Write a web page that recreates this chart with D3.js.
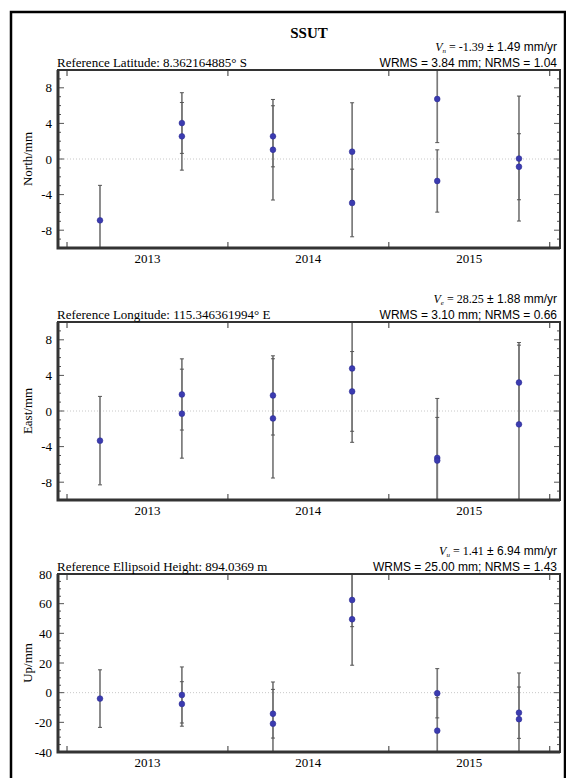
<!DOCTYPE html>
<html>
<head>
<meta charset="utf-8">
<script src="https://cdn.jsdelivr.net/npm/d3@7"></script>
<style>
  body { margin: 0; background: #fff; }
  svg { display: block; }
</style>
</head>
<body>
<div id="chart"></div>
<script>
// decimal-year epochs of each solution (two solutions per campaign, except the first)
var epochs = [2013.205, 2013.714, 2013.714, 2014.280, 2014.280, 2014.772, 2014.772, 2015.301, 2015.301, 2015.809, 2015.809];

var north    = [-6.89, 4.04, 2.55, 2.55, 1.04, 0.82, -4.94, 6.74, -2.47, 0.05, -0.87];
var northErr = [3.93, 3.41, 3.80, 3.43, 5.65, 5.50, 3.80, 4.90, 3.50, 7.02, 3.71];

var east    = [-3.33, 1.86, -0.30, 1.75, -0.83, 4.78, 2.20, -5.27, -5.57, 3.20, -1.50];
var eastErr = [4.97, 4.00, 5.00, 4.45, 6.70, 8.30, 4.48, 6.68, 4.85, 4.49, 8.90];

var up    = [-4.0, -1.55, -7.6, -14.2, -20.9, 62.5, 49.5, -0.4, -25.6, -13.5, -17.9];
var upErr = [19.4, 18.9, 15.0, 16.4, 28.1, 18.0, 31.0, 16.6, 22.2, 17.3, 31.2];

var yearTicks = [2013, 2014, 2015, 2016];
var yearLabels = [2013, 2014, 2015];

var neTicks = [-8, -4, 0, 4, 8];
var upTicks = [-40, -20, 0, 20, 40, 60, 80];

var title = "SSUT";

var width = 566, height = 778;
var margin = {left: 58, right: 6};
var plotH = 178;

var svg = d3.select("#chart").append("svg")
    .attr("width", width)
    .attr("height", height);

// outer frame
svg.append("rect")
    .attr("x", 11).attr("y", 12)
    .attr("width", 554).attr("height", 800)
    .attr("fill", "none")
    .attr("stroke", "#000")
    .attr("stroke-width", 2.5);

var x = d3.scaleLinear()
    .domain([2012.944, 2016.064])
    .range([margin.left, width - margin.right]);

svg.append("text")
    .attr("x", (x.range()[0] + x.range()[1]) / 2)
    .attr("y", 38)
    .attr("text-anchor", "middle")
    .style("font-family", "Liberation Serif")
    .style("font-weight", "bold")
    .style("font-size", "15px")
    .text(title);

function drawPanel(top, vals, errs, domain, ticks, minorStep, yTitle, refText, sub, velText, statsText) {
    var y = d3.scaleLinear().domain(domain).range([top + plotH, top]);
    var g = svg.append("g");
    var x0 = x.range()[0], x1 = x.range()[1];

    var clipId = "clip" + top;
    g.append("clipPath").attr("id", clipId)
        .append("rect")
        .attr("x", x0).attr("y", top)
        .attr("width", x1 - x0).attr("height", plotH);

    // zero line
    g.append("line")
        .attr("x1", x0).attr("x2", x1)
        .attr("y1", y(0)).attr("y2", y(0))
        .attr("stroke", "#c8c8c8")
        .attr("stroke-width", 1)
        .attr("stroke-dasharray", "1,2");

    // minor + major ticks on left and right
    var minor = d3.range(domain[0], domain[1] + 0.001, minorStep);
    minor.forEach(function(v) {
        var len = ticks.indexOf(v) >= 0 ? 6 : 3;
        g.append("line").attr("x1", x0).attr("x2", x0 + len)
            .attr("y1", y(v)).attr("y2", y(v))
            .attr("stroke", "#555").attr("stroke-width", 1);
        g.append("line").attr("x1", x1).attr("x2", x1 - len)
            .attr("y1", y(v)).attr("y2", y(v))
            .attr("stroke", "#555").attr("stroke-width", 1);
    });

    // year ticks top and bottom
    yearTicks.forEach(function(t) {
        g.append("line").attr("x1", x(t)).attr("x2", x(t))
            .attr("y1", top + plotH).attr("y2", top + plotH - 6)
            .attr("stroke", "#555").attr("stroke-width", 1.2);
        g.append("line").attr("x1", x(t)).attr("x2", x(t))
            .attr("y1", top).attr("y2", top + 6)
            .attr("stroke", "#555").attr("stroke-width", 1.2);
    });

    // y labels
    g.selectAll(".ylab").data(ticks).enter().append("text")
        .attr("x", 52)
        .attr("y", function(d) { return y(d) + 4.5; })
        .attr("text-anchor", "end")
        .style("font-family", "Liberation Serif")
        .style("font-size", "13px")
        .text(function(d) { return d; });

    // x labels (mid-year)
    g.selectAll(".xlab").data(yearLabels).enter().append("text")
        .attr("x", function(d) { return x(d + 0.5); })
        .attr("y", top + plotH + 15)
        .attr("text-anchor", "middle")
        .style("font-family", "Liberation Serif")
        .style("font-size", "13px")
        .text(function(d) { return d; });

    // axis title
    g.append("text")
        .attr("transform", "translate(32," + (top + plotH / 2) + ") rotate(-90)")
        .attr("text-anchor", "middle")
        .style("font-family", "Liberation Serif")
        .style("font-size", "13px")
        .text(yTitle);

    // error bars
    var pts = vals.map(function(v, i) { return {t: epochs[i], v: v, e: errs[i]}; });
    var eb = g.append("g").attr("clip-path", "url(#" + clipId + ")");
    eb.selectAll(".bar").data(pts).enter().append("line")
        .attr("x1", function(d) { return x(d.t); })
        .attr("x2", function(d) { return x(d.t); })
        .attr("y1", function(d) { return y(d.v + d.e); })
        .attr("y2", function(d) { return y(d.v - d.e); })
        .attr("stroke", "#7a7a7a")
        .attr("stroke-width", 1.7);
    [1, -1].forEach(function(s) {
        eb.selectAll(".cap").data(pts).enter().append("line")
            .attr("x1", function(d) { return x(d.t) - 2; })
            .attr("x2", function(d) { return x(d.t) + 2; })
            .attr("y1", function(d) { return y(d.v + s * d.e); })
            .attr("y2", function(d) { return y(d.v + s * d.e); })
            .attr("stroke", "#555")
            .attr("stroke-width", 1);
    });
    eb.selectAll(".dot").data(pts).enter().append("circle")
        .attr("cx", function(d) { return x(d.t); })
        .attr("cy", function(d) { return y(d.v); })
        .attr("r", 2.9)
        .attr("fill", "#3b3bb0")
        .attr("stroke", "#2a2a90")
        .attr("stroke-width", 0.5);

    // frame: thin top/right, heavy left/bottom
    g.append("rect")
        .attr("x", x0).attr("y", top)
        .attr("width", x1 - x0).attr("height", plotH)
        .attr("fill", "none")
        .attr("stroke", "#333")
        .attr("stroke-width", 2);
    g.append("path")
        .attr("d", "M" + x0 + "," + top + "V" + (top + plotH) + "H" + x1)
        .attr("fill", "none")
        .attr("stroke", "#333")
        .attr("stroke-width", 3);

    // header texts
    g.append("text")
        .attr("x", 57).attr("y", top - 3)
        .style("font-family", "Liberation Serif")
        .style("font-size", "13px")
        .text(refText);

    g.append("text")
        .attr("x", 557).attr("y", top - 3)
        .attr("text-anchor", "end")
        .style("font-family", "Liberation Sans")
        .style("font-size", "12px")
        .text(statsText);

    var vt = g.append("text")
        .attr("x", 557).attr("y", top - 19)
        .attr("text-anchor", "end")
        .style("font-size", "12px");
    vt.append("tspan").style("font-family", "Liberation Serif").style("font-style", "italic").text("V");
    vt.append("tspan").style("font-family", "Liberation Serif").style("font-style", "italic")
        .style("font-size", "7px").attr("dy", 2).text(sub);
    vt.append("tspan").style("font-family", "Liberation Serif").attr("dy", -2).text(" = " + velText[0]);
    vt.append("tspan").style("font-family", "Liberation Sans").text(" \u00b1 " + velText[1] + " mm/yr");
}

drawPanel(70, north, northErr, [-10, 10], neTicks, 1, "North/mm",
    "Reference Latitude: 8.362164885\u00b0 S", "n", ["-1.39", "1.49"], "WRMS = 3.84 mm; NRMS = 1.04");
drawPanel(322, east, eastErr, [-10, 10], neTicks, 1, "East/mm",
    "Reference Longitude: 115.346361994\u00b0 E", "e", ["28.25", "1.88"], "WRMS = 3.10 mm; NRMS = 0.66");
drawPanel(574, up, upErr, [-40, 80], upTicks, 5, "Up/mm",
    "Reference Ellipsoid Height: 894.0369 m", "u", ["1.41", "6.94"], "WRMS = 25.00 mm; NRMS = 1.43");
</script>
</body>
</html>
